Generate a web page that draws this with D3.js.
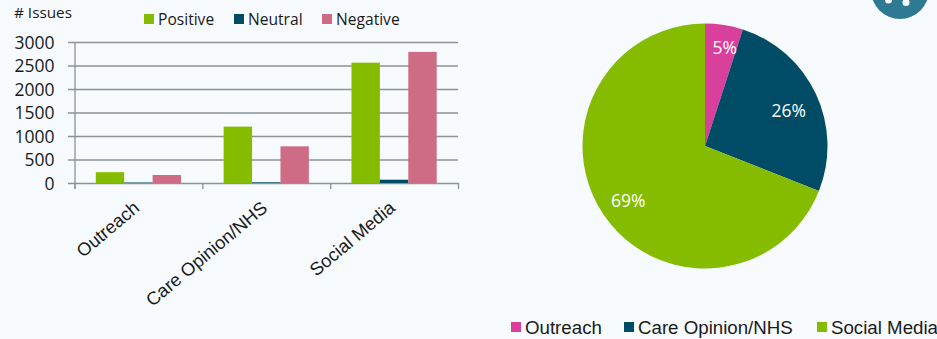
<!DOCTYPE html>
<html>
<head>
<meta charset="utf-8">
<script src="https://cdn.jsdelivr.net/npm/d3@7/dist/d3.min.js"></script>
<style>
  html, body { margin: 0; padding: 0; background: #f7fbfe; overflow: hidden; }
  svg { display: block; }
  text { fill: #1a1a1a; }
</style>
</head>
<body>
<svg id="chart" width="937" height="339"></svg>
<script>
const categories = ["Outreach", "Care Opinion/NHS", "Social Media"];
const seriesNames = ["Positive", "Neutral", "Negative"];
const positive = [230, 1200, 2560];
const neutral = [10, 15, 70];
const negative = [170, 780, 2790];
const yTicks = [0, 500, 1000, 1500, 2000, 2500, 3000];
const shares = [5, 26, 69];

const seriesColors = ["#85bc00", "#004b66", "#cf6c85"];
const shareColors = ["#d8409b", "#004b66", "#85bc00"];
const seriesValues = [positive, neutral, negative];

const svg = d3.select("#chart");
const sans = "'Open Sans', sans-serif";
const arial = "'Liberation Sans', Arial, sans-serif";

// Corner badge, clipped by the top edge of the page
const badge = svg.append("g");
badge.append("circle").attr("cx", 900).attr("cy", -10).attr("r", 29).attr("fill", "#2e7a92");
badge.append("circle").attr("cx", 888.5).attr("cy", 0).attr("r", 3.5).attr("fill", "#f7fbfe");
badge.append("circle").attr("cx", 906).attr("cy", 2.5).attr("r", 3.5).attr("fill", "#f7fbfe");

// Grouped bars
const plot = { left: 74.5, right: 458, top: 42, bottom: 183 };
const x0 = d3.scaleBand().domain(categories).range([plot.left, plot.right]);
const x1 = d3.scaleBand().domain(seriesNames)
  .range([0, x0.bandwidth()]).paddingOuter(0.75).paddingInner(0);
const y = d3.scaleLinear().domain([0, 3000]).range([plot.bottom, plot.top]);

const axisColor = "#8c9296";
const grid = svg.append("g");
grid.selectAll("line").data(yTicks).join("line")
  .attr("x1", 68).attr("x2", plot.right)
  .attr("y1", d => y(d) + 0.5).attr("y2", d => y(d) + 0.5)
  .attr("stroke", axisColor).attr("stroke-width", 1.3);

const yAxis = d3.axisLeft(y).tickValues(yTicks).tickFormat(d3.format("d")).tickSize(0).tickPadding(0);
svg.append("g").attr("transform", "translate(54.5,0)").call(yAxis)
  .call(g => g.select(".domain").remove())
  .selectAll("text")
  .attr("font-family", sans).attr("font-size", 17.5).attr("fill", "#1a1a1a")
  .attr("dy", "0.36em");

svg.append("line")
  .attr("x1", plot.left + 0.5).attr("x2", plot.left + 0.5)
  .attr("y1", plot.top).attr("y2", plot.bottom + 6)
  .attr("stroke", axisColor).attr("stroke-width", 1.3);

const xTickPositions = [...categories.map(c => x0(c)), plot.right];
svg.append("g").selectAll("line").data(xTickPositions).join("line")
  .attr("x1", d => d + 0.5).attr("x2", d => d + 0.5)
  .attr("y1", plot.bottom).attr("y2", plot.bottom + 6)
  .attr("stroke", axisColor).attr("stroke-width", 1.3);

const groups = svg.append("g").selectAll("g").data(categories).join("g")
  .attr("transform", d => `translate(${x0(d)},0)`);
groups.selectAll("rect")
  .data((c, i) => seriesNames.map((s, j) => ({ s, j, v: seriesValues[j][i] })))
  .join("rect")
  .attr("x", d => x1(d.s))
  .attr("width", x1.bandwidth())
  .attr("y", d => y(d.v))
  .attr("height", d => y(0) - y(d.v))
  .attr("fill", d => seriesColors[d.j]);

// Slanted category labels ending under each group's centre
svg.append("g").selectAll("text").data(categories).join("text")
  .attr("text-anchor", "end")
  .attr("font-family", arial).attr("font-size", 18.3)
  .attr("transform", d => `translate(${x0(d) + x0.bandwidth() / 2 - 6},${plot.bottom + 17}) rotate(-40)`)
  .attr("dy", "0.7em")
  .text(d => d);

svg.append("text").attr("x", 14).attr("y", 18)
  .attr("font-family", sans).attr("font-size", 15.3).text("# Issues");

// Sentiment legend
const topLegendX = [144, 234, 322];
const topLegend = svg.append("g").selectAll("g").data(seriesNames).join("g")
  .attr("transform", (d, i) => `translate(${topLegendX[i]},14)`);
topLegend.append("rect").attr("width", 10).attr("height", 10)
  .attr("fill", (d, i) => seriesColors[i]);
topLegend.append("text").attr("x", 14).attr("y", 10.5)
  .attr("font-family", sans).attr("font-size", 15.6).text(d => d);

// Pie of shares, starting at twelve o'clock
const cx = 705, cy = 146, radius = 122.5;
const pie = d3.pie().sort(null)(shares);
const arc = d3.arc().innerRadius(0).outerRadius(radius);
const labelRadii = [100.8, 91.4, 94];
const labelNudge = [[4, 1], [1, 4], [1, 2]];
const pieGroup = svg.append("g").attr("transform", `translate(${cx},${cy})`);
pieGroup.selectAll("path").data(pie).join("path")
  .attr("d", arc).attr("fill", (d, i) => shareColors[i]);
pieGroup.selectAll("text").data(pie).join("text")
  .attr("text-anchor", "middle").attr("dy", "0.36em")
  .attr("font-family", sans).attr("font-size", 17.5)
  .style("fill", "#ffffff")
  .attr("transform", (d, i) => {
    const ring = d3.arc().innerRadius(labelRadii[i]).outerRadius(labelRadii[i]);
    const [px, py] = ring.centroid(d);
    return `translate(${px + labelNudge[i][0]},${py + labelNudge[i][1]})`;
  })
  .text(d => d.data + "%");

// Share legend
const bottomLegendX = [511, 624, 817];
const bottomLegend = svg.append("g").selectAll("g").data(categories).join("g")
  .attr("transform", (d, i) => `translate(${bottomLegendX[i]},322)`);
bottomLegend.append("rect").attr("width", 10).attr("height", 10)
  .attr("fill", (d, i) => shareColors[i]);
bottomLegend.append("text").attr("x", 14).attr("y", 11.5)
  .attr("font-family", arial).attr("font-size", 18.7).text(d => d);
</script>
</body>
</html>
